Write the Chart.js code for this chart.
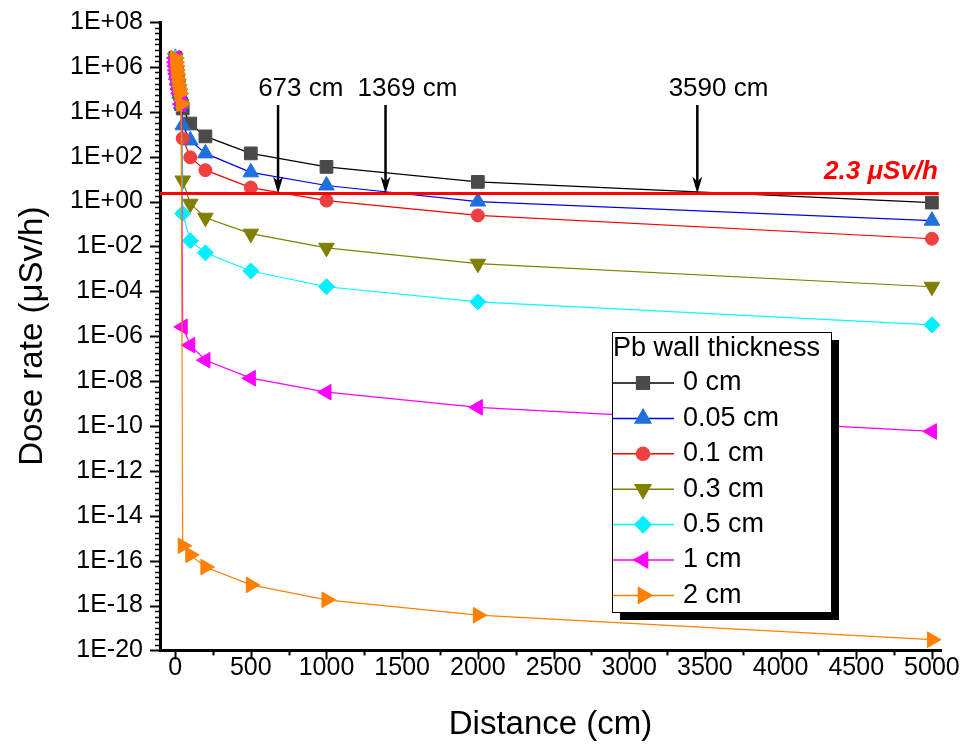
<!DOCTYPE html>
<html>
<head>
<meta charset="utf-8">
<script src="https://cdn.jsdelivr.net/npm/chart.js@4.4.1/dist/chart.umd.min.js"></script>
<style>
  html, body { margin: 0; padding: 0; background: #fff; }
  #wrap { width: 965px; height: 749px; }
</style>
</head>
<body>
<div id="wrap"><canvas id="chart" width="965" height="749"></canvas></div>
<script>
// Distances (cm) in front of the wall: dose is the same for every thickness
const nearDistance = [1, 3, 5, 8, 10, 15, 20, 25, 30, 40];
const nearDose = [2.5e6, 1.6e6, 1.1e6, 7e5, 5e5, 2.8e5, 1.6e5, 1e5, 6.5e4, 2.2e4];

// Distances (cm) behind the wall
const farDistance = [50, 100, 200, 500, 1000, 2000, 5000];
const dose0cm   = [1.4e4, 3e3, 8e2, 1.4e2, 35, 7.5, 0.9];
const dose005cm = [2.5e3, 5.3e2, 1.4e2, 20, 5.2, 1.0, 0.14];
const dose01cm  = [6.5e2, 93, 25, 4.2, 1.1, 0.24, 0.022];
const dose03cm  = [8.7, 0.8, 0.19, 0.037, 8.7e-3, 1.7e-3, 1.6e-4];
const dose05cm  = [0.29, 0.018, 5.2e-3, 8e-4, 1.6e-4, 3.4e-5, 3.2e-6];
const dose1cm   = [2.6e-6, 4e-7, 8.5e-8, 1.35e-8, 3.2e-9, 6.8e-10, 5.7e-11];
const dose2cm   = [4.6e-16, 1.8e-16, 5.2e-17, 8.3e-18, 1.8e-18, 3.7e-19, 3e-20];

const seriesLabels = ['0 cm', '0.05 cm', '0.1 cm', '0.3 cm', '0.5 cm', '1 cm', '2 cm'];
const seriesDose = [dose0cm, dose005cm, dose01cm, dose03cm, dose05cm, dose1cm, dose2cm];

// Axis ticks
const xTicks = [0, 500, 1000, 1500, 2000, 2500, 3000, 3500, 4000, 4500, 5000];
const yTickExponents = [8, 6, 4, 2, 0, -2, -4, -6, -8, -10, -12, -14, -16, -18, -20];

// Dose limit and the crossing distances marked with arrows
const limitDose = 2.3;
const crossingLabels = ['673 cm', '1369 cm', '3590 cm'];
const crossingArrowX = [680, 1390, 3450];
const crossingTextX = [830, 1535, 3590];

const FONT = "'Liberation Sans', Arial, sans-serif";

// marker look per series
const styles = [
    { line: '#000000', fill: '#4a4a4a', shape: 'rect', rot: 0, r: 9 },
    { line: '#0000ff', fill: '#1f6fdc', shape: 'triangle', rot: 0, r: 9 },
    { line: '#ff0000', fill: '#ee4040', shape: 'circle', rot: 0, r: 6.5 },
    { line: '#808000', fill: '#808000', shape: 'triangle', rot: 180, r: 9 },
    { line: '#00ffff', fill: '#00f0ff', shape: 'rectRot', rot: 0, r: 8 },
    { line: '#ff00ff', fill: '#ff00ff', shape: 'triangle', rot: 270, r: 9 },
    { line: '#ff8000', fill: '#ff8000', shape: 'triangle', rot: 90, r: 9 }
];

const datasets = seriesDose.map((dose, i) => {
    const pts = nearDistance.map((d, k) => ({ x: d, y: nearDose[k] }))
        .concat(farDistance.map((d, k) => ({ x: d, y: dose[k] })));
    const s = styles[i];
    return {
        label: seriesLabels[i],
        data: pts,
        showLine: true,
        borderColor: s.line,
        borderWidth: 1.2,
        pointStyle: s.shape,
        rotation: s.rot,
        pointRadius: s.r,
        pointBackgroundColor: s.fill,
        pointBorderColor: s.fill,
        pointBorderWidth: 1,
        order: 20 - i
    };
});

// horizontal dose limit
datasets.push({
    label: 'limit',
    data: [{ x: -100, y: limitDose }, { x: 5045, y: limitDose }],
    showLine: true,
    borderColor: '#ff0000',
    borderWidth: 3,
    pointRadius: 0,
    order: 1
});

const decor = {
    id: 'decor',
    afterDatasetsDraw(chart) {
        const ctx = chart.ctx;
        const xs = chart.scales.x, ys = chart.scales.y;
        const area = chart.chartArea;
        ctx.save();
        ctx.strokeStyle = '#000';

        // y ticks: major at labelled decades, minor every quarter decade
        for (let e = -20; e <= 8.001; e += 0.25) {
            const py = Math.round(ys.getPixelForValue(Math.pow(10, e))) + 0.5;
            const major = Math.abs(e - Math.round(e)) < 1e-6 && Math.round(e) % 2 === 0;
            const len = major ? 10 : 5;
            ctx.lineWidth = major ? 2 : 1.5;
            ctx.beginPath();
            ctx.moveTo(area.left, py);
            ctx.lineTo(area.left - len, py);
            ctx.stroke();
        }
        // x ticks
        for (let v = 0; v <= 5000; v += 250) {
            const px = Math.round(xs.getPixelForValue(v)) + 0.5;
            const major = v % 500 === 0;
            ctx.lineWidth = 2;
            ctx.beginPath();
            ctx.moveTo(px, area.bottom);
            ctx.lineTo(px, area.bottom + (major ? 9 : 5));
            ctx.stroke();
        }

        // arrows to the crossing points
        const yLimit = ys.getPixelForValue(limitDose);
        const yTop = ys.getPixelForValue(2e4);
        crossingLabels.forEach((txt, i) => {
            const px = xs.getPixelForValue(crossingArrowX[i]);
            ctx.strokeStyle = '#000';
            ctx.fillStyle = '#000';
            ctx.lineWidth = 2.5;
            ctx.beginPath();
            ctx.moveTo(px, yTop);
            ctx.lineTo(px, yLimit - 10);
            ctx.stroke();
            ctx.beginPath();
            ctx.moveTo(px, yLimit);
            ctx.lineTo(px - 5, yLimit - 17);
            ctx.lineTo(px, yLimit - 12);
            ctx.lineTo(px + 5, yLimit - 17);
            ctx.closePath();
            ctx.fill();

            ctx.font = '26px ' + FONT;
            ctx.textAlign = 'center';
            ctx.textBaseline = 'middle';
            ctx.fillText(txt, xs.getPixelForValue(crossingTextX[i]), ys.getPixelForValue(1.1e5));
        });

        // limit label
        ctx.fillStyle = '#ff0000';
        ctx.font = 'italic bold 26px ' + FONT;
        ctx.textAlign = 'right';
        ctx.textBaseline = 'alphabetic';
        ctx.fillText('2.3 \u03bcSv/h', xs.getPixelForValue(5040), yLimit - 14);
        ctx.restore();
    },
    afterDraw(chart) {
        // Origin-style legend box with drop shadow
        const ctx = chart.ctx;
        const bx = 612, by = 332, bw = 219, bh = 280;
        ctx.save();
        ctx.fillStyle = '#000';
        ctx.fillRect(bx + 8, by + 8, bw, bh);
        ctx.fillStyle = '#fff';
        ctx.fillRect(bx, by, bw, bh);
        ctx.strokeStyle = '#000';
        ctx.lineWidth = 1;
        ctx.strokeRect(bx + 0.5, by + 0.5, bw, bh);

        ctx.fillStyle = '#000';
        ctx.font = '27px ' + FONT;
        ctx.textAlign = 'left';
        ctx.textBaseline = 'middle';
        ctx.fillText('Pb wall thickness', bx + 1, by + 17);

        seriesLabels.forEach((lab, i) => {
            const s = styles[i];
            const cy = 383 + i * 35.4;
            ctx.strokeStyle = s.line;
            ctx.lineWidth = 1.5;
            ctx.beginPath();
            ctx.moveTo(bx + 1, cy);
            ctx.lineTo(bx + 62, cy);
            ctx.stroke();
            ctx.fillStyle = s.fill;
            ctx.strokeStyle = s.fill;
            Chart.helpers.drawPoint(ctx, {
                pointStyle: s.shape, rotation: s.rot, radius: s.r, borderWidth: 1
            }, bx + 31, cy);
            ctx.fillStyle = '#000';
            ctx.font = '27px ' + FONT;
            ctx.fillText(lab, bx + 71, cy);
        });
        ctx.restore();
    }
};

// layout padding, nudged below so the plot frame lands where the original has it
const pad = { left: 0, top: 22, right: 24, bottom: 0 };
const frame = { left: 160, top: 22, right: 941, bottom: 648 };

const chart = new Chart(document.getElementById('chart'), {
    type: 'scatter',
    data: { datasets: datasets },
    options: {
        responsive: false,
        animation: false,
        layout: { padding: pad },
        plugins: {
            legend: { display: false },
            tooltip: { enabled: false }
        },
        scales: {
            x: {
                type: 'linear',
                min: -100,
                max: 5060,
                afterBuildTicks: axis => { axis.ticks = xTicks.map(v => ({ value: v })); },
                grid: { display: false, drawTicks: false },
                border: { display: true, color: '#000', width: 3 },
                ticks: {
                    color: '#000',
                    padding: 3,
                    maxRotation: 0,
                    autoSkip: false,
                    font: { family: FONT, size: 25 },
                    callback: v => String(v)
                },
                title: {
                    display: true,
                    text: 'Distance (cm)',
                    color: '#000',
                    font: { family: FONT, size: 33 },
                    padding: { top: 19, bottom: 4 }
                }
            },
            y: {
                type: 'logarithmic',
                min: 1e-20,
                max: 1e8,
                afterBuildTicks: axis => { axis.ticks = yTickExponents.map(e => ({ value: Math.pow(10, e) })); },
                // tick padding would otherwise push the top of the plot down
                afterFit: axis => { axis.paddingTop = 0; axis.paddingBottom = 0; },
                grid: { display: false, drawTicks: false },
                border: { display: true, color: '#000', width: 3 },
                ticks: {
                    color: '#000',
                    padding: 17,
                    autoSkip: false,
                    font: { family: FONT, size: 25 },
                    callback: function(v) {
                        const e = Math.round(Math.log10(v));
                        const mag = String(Math.abs(e)).padStart(2, '0');
                        return '1E' + (e < 0 ? '-' : '+') + mag;
                    }
                },
                title: {
                    display: true,
                    text: 'Dose rate (\u03bcSv/h)',
                    color: '#000',
                    font: { family: FONT, size: 33 },
                    padding: { top: 10, bottom: 0 }
                }
            }
        }
    },
    plugins: [decor]
});

const a = chart.chartArea;
pad.top += frame.top - a.top;
pad.left += frame.left - a.left;
pad.right += a.right - frame.right;
chart.update();
</script>
</body>
</html>
